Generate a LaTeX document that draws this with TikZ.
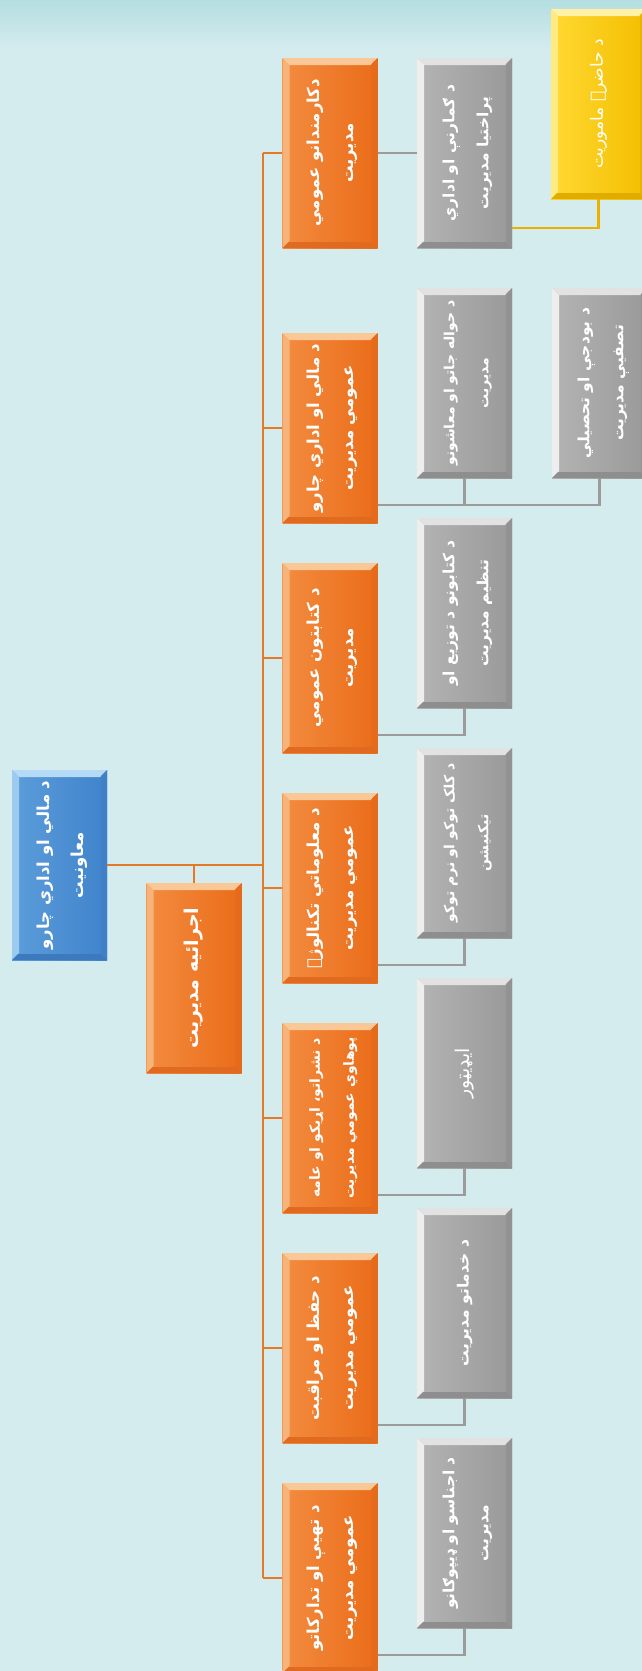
\documentclass[tikz,border=0pt]{standalone}
\usepackage{fontspec}
\usepackage{graphicx}
\usetikzlibrary{calc}
\TeXXeTstate=1
\newfontfamily\arfont[Script=Arabic]{DejaVu Sans}
\definecolor{bgc}{HTML}{D5ECEF}
\definecolor{bgtop}{HTML}{B4DEE1}
\definecolor{oA}{HTML}{F38C40}
\definecolor{oB}{HTML}{EA6C18}
\definecolor{oT}{HTML}{FAC896}
\definecolor{oL}{HTML}{F7B47A}
\definecolor{oR}{HTML}{E56A1C}
\definecolor{oD}{HTML}{E06A20}
\definecolor{bA}{HTML}{5C9DDA}
\definecolor{bB}{HTML}{3F83CB}
\definecolor{bT}{HTML}{B5DAF5}
\definecolor{bL}{HTML}{9CCBEF}
\definecolor{bR}{HTML}{4080C6}
\definecolor{bD}{HTML}{3C7ABD}
\definecolor{gA}{HTML}{B4B4B4}
\definecolor{gB}{HTML}{999999}
\definecolor{gT}{HTML}{E2E2E2}
\definecolor{gL}{HTML}{EEEEEE}
\definecolor{gR}{HTML}{929292}
\definecolor{gD}{HTML}{8E8E8E}
\definecolor{yA}{HTML}{FFD932}
\definecolor{yB}{HTML}{F3BE00}
\definecolor{yT}{HTML}{FFF2A8}
\definecolor{yL}{HTML}{FFEB80}
\definecolor{yR}{HTML}{E8B400}
\definecolor{yD}{HTML}{E0AC00}
\definecolor{lineO}{HTML}{E47A25}
\definecolor{lineG}{HTML}{9B9B9B}
\definecolor{lineY}{HTML}{EBB000}
\newcommand\mybevel[4]{%
 \coordinate (pNW) at (path picture bounding box.north west);
 \coordinate (pNE) at (path picture bounding box.north east);
 \coordinate (pSW) at (path picture bounding box.south west);
 \coordinate (pSE) at (path picture bounding box.south east);
 \fill[#1] (pNW) -- (pNE) -- ([shift={(-7pt,-7pt)}]pNE) -- ([shift={(7pt,-7pt)}]pNW) -- cycle;
 \fill[#2] (pNW) -- ([shift={(7pt,-7pt)}]pNW) -- ([shift={(7pt,7pt)}]pSW) -- (pSW) -- cycle;
 \fill[#3] (pNE) -- (pSE) -- ([shift={(-6pt,6pt)}]pSE) -- ([shift={(-6pt,-6pt)}]pNE) -- cycle;
 \fill[#4] (pSW) -- ([shift={(6pt,6pt)}]pSW) -- ([shift={(-6pt,6pt)}]pSE) -- (pSE) -- cycle;
}
\newcommand\twol[2]{\rotatebox{90}{\begin{tabular}{@{}c@{}}#1\\#2\end{tabular}}}
\newcommand\onel[1]{\rotatebox{90}{#1}}
\tikzset{
 boxbase/.style={minimum width=95pt, minimum height=190pt, inner sep=0pt, text=white,
   font=\arfont\bfseries\fontsize{16.5}{34}\selectfont},
 obox/.style={boxbase, left color=oA, right color=oB, path picture={\mybevel{oT}{oL}{oR}{oD}}},
 bbox/.style={boxbase, left color=bA, right color=bB, path picture={\mybevel{bT}{bL}{bR}{bD}}},
 gbox/.style={boxbase, left color=gA, right color=gB, path picture={\mybevel{gT}{gL}{gR}{gD}},
   font=\arfont\bfseries\fontsize{15.5}{34}\selectfont},
 ybox/.style={boxbase, left color=yA, right color=yB, path picture={\mybevel{yT}{yL}{yR}{yD}},
   font=\arfont\fontsize{17}{32}\selectfont},
 thintext/.style={font=\arfont\fontsize{19}{30}\selectfont},
 smalltext/.style={font=\arfont\bfseries\fontsize{14}{34}\selectfont},
 bigtext/.style={font=\arfont\bfseries\fontsize{19}{34}\selectfont},
 oline/.style={draw=lineO, line width=2.8pt},
 gline/.style={draw=lineG, line width=2.4pt},
 yline/.style={draw=lineY, line width=2.2pt},
}
\begin{document}
\begin{tikzpicture}[x=1pt, y=-1pt]
\useasboundingbox (0,0) rectangle (642,1671);
\clip (0,0) rectangle (642,1671);
\fill[bgc] (0,0) rectangle (642,1671);
\shade[top color=bgtop, bottom color=bgc] (0,0) rectangle (642,50);

% boxes
\node[bbox] (blue) at (59.5,865) {\twol{\beginR د مالي او اداري چارو\endR}{\beginR معاونیت\endR}};
\node[obox, bigtext] (exec) at (194,978) {\onel{\beginR اجرائیه مدیریت\endR}};

\node[obox] (o1) at (330,153) {\twol{\beginR دکارمندانو عمومي\endR}{\beginR مدیریت\endR}};
\node[obox] (o2) at (330,428) {\twol{\beginR د مالي او اداري چارو\endR}{\beginR عمومي مدیریت\endR}};
\node[obox] (o3) at (330,658) {\twol{\beginR د کتابتون عمومي\endR}{\beginR مدیریت\endR}};
\node[obox] (o4) at (330,888) {\twol{\beginR د معلوماتي تکنالوژۍ\endR}{\beginR عمومي مدیریت\endR}};
\node[obox, smalltext] (o5) at (330,1118) {\twol{\beginR د نشراتو، اړیکو او عامه\endR}{\beginR پوهاوي عمومي مدیریت\endR}};
\node[obox] (o6) at (330,1348) {\twol{\beginR د حفظ او مراقبت\endR}{\beginR عمومي مدیریت\endR}};
\node[obox] (o7) at (330,1578) {\twol{\beginR د تهیې او تدارکاتو\endR}{\beginR عمومي مدیریت\endR}};

\node[gbox] (g1) at (464.5,153) {\twol{\beginR د ګمارنې او اداري\endR}{\beginR پراختیا مدیریت\endR}};
\node[gbox, smalltext] (g2) at (464.5,383) {\twol{\beginR د حواله جاتو او معاشونو\endR}{\beginR مدیریت\endR}};
\node[gbox] (bud) at (599.5,383) {\twol{\beginR د بودجې او تحصیلي\endR}{\beginR تصفیې مدیریت\endR}};
\node[gbox] (g3) at (464.5,613) {\twol{\beginR د کتابونو د توزیع او\endR}{\beginR تنظیم مدیریت\endR}};
\node[gbox, smalltext] (g4) at (464.5,843) {\twol{\beginR د کلک توکو او نرم توکو\endR}{\beginR تیکنیشن\endR}};
\node[gbox, thintext] (g5) at (464.5,1073) {\onel{\beginR ایډیټور\endR}};
\node[gbox] (g6) at (464.5,1303) {\onel{\beginR د خدماتو مدیریت\endR}};
\node[gbox] (g7) at (464.5,1533) {\twol{\beginR د اجناسو او ډیپوګانو\endR}{\beginR مدیریت\endR}};

\node[ybox] (yel) at (598.5,104) {\onel{\beginR د حاضرۍ ماموریت\endR}};

% orange connectors
\coordinate (trunk) at (263,865);
\draw[oline] (blue.east) -- (trunk);
\draw[oline] (exec.north) -- (exec.north |- trunk);
\draw[oline] (o1.west -| trunk) -- (o7.west -| trunk);
\foreach \i in {1,...,7}{\draw[oline] (o\i.west -| trunk) -- (o\i.west);}

% grey connectors
\draw[gline] (o1.east) -- (g1.west);
\foreach \i in {2,...,7}{
  \coordinate (c\i) at ($(g\i.south)+(0,27)$);
  \draw[gline] (o\i.east |- c\i) -| (g\i.south);
}
\draw[gline] (c2) -| (bud.south);

% yellow connector
\coordinate (yc) at ($(g1.south east)+(0,-20)$);
\draw[yline] (yc) -| (yel.south);
\end{tikzpicture}
\end{document}
